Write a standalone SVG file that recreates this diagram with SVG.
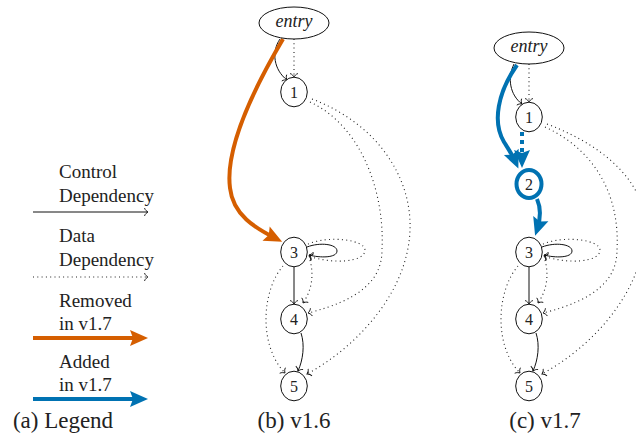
<svg xmlns="http://www.w3.org/2000/svg" width="636" height="433" viewBox="0 0 636 433">
<style>
  text { font-family: 'Liberation Serif', 'DejaVu Serif', serif; fill: #222; }
  .lg { font-size: 19px; }
  .cap { font-size: 23px; text-anchor: middle; }
  .lab { font-size: 16px; text-anchor: middle; }
  .ent { font-size: 18px; font-style: italic; text-anchor: middle; }
  .node { fill: #fff; stroke: #111; stroke-width: 1; }
  .ctl { fill: none; stroke: #111; stroke-width: 1; marker-end: url(#chev); }
  .dat { fill: none; stroke: #222; stroke-width: 1.1; stroke-dasharray: 1 3.3; marker-end: url(#chev); }
  .rem { fill: none; stroke: #D55E00; stroke-width: 4; marker-end: url(#headO); }
  .add { fill: none; stroke: #0072B2; stroke-width: 4; marker-end: url(#headB); }
  .addd { fill: none; stroke: #0072B2; stroke-width: 4; stroke-dasharray: 4 4; marker-end: url(#headB); }
</style>
<defs>
  <marker id="chev" markerUnits="userSpaceOnUse" orient="auto" refX="0" refY="0" markerWidth="10" markerHeight="10" overflow="visible">
    <path d="M-3.5,-4 C-3,-2 -1,-0.5 0,0 C-1,0.5 -3,2 -3.5,4" fill="none" stroke="#111" stroke-width="0.9"/>
  </marker>
  <marker id="headO" markerUnits="userSpaceOnUse" orient="auto" refX="0" refY="0" markerWidth="20" markerHeight="20" overflow="visible">
    <path d="M6,0 L-12,-8 L-9,0 L-12,8 Z" fill="#D55E00"/>
  </marker>
  <marker id="headB" markerUnits="userSpaceOnUse" orient="auto" refX="0" refY="0" markerWidth="20" markerHeight="20" overflow="visible">
    <path d="M6,0 L-12,-8 L-9,0 L-12,8 Z" fill="#0072B2"/>
  </marker>
</defs>

<!-- (a) Legend -->
<g id="legend" font-family="Liberation Serif, DejaVu Serif, serif">
  <text class="lg" x="59" y="178">Control</text>
  <text class="lg" x="59" y="202">Dependency</text>
  <path class="ctl" d="M33,212 L148,212"/>
  <text class="lg" x="59" y="242">Data</text>
  <text class="lg" x="59" y="266">Dependency</text>
  <path class="dat" d="M33,277 L148,277"/>
  <text class="lg" x="59" y="307">Removed</text>
  <text class="lg" x="59" y="330">in v1.7</text>
  <path class="rem" d="M33,338 L142,338"/>
  <text class="lg" x="59" y="368">Added</text>
  <text class="lg" x="59" y="391">in v1.7</text>
  <path class="add" d="M33,399 L142,399"/>
  <text class="cap" x="63" y="428">(a) Legend</text>
</g>

<!-- connectors -->
<g id="connectors">
  <!-- panel b -->
  <path class="ctl" d="M280,39 C271,52 274,70 287,80"/>
  <path class="dat" d="M294,39 L294,77"/>
  <path class="rem" d="M283,39 C250,95 225,150 230,188 C233,215 255,228 276.8,239"/>
  <path class="dat" d="M310,102 C360,125 385,190 382,250 C382,280 360,300 308,313"/>
  <path class="dat" d="M312,99 C380,125 412,180 410,230 C408,290 360,345 307,374"/>
  <path class="ctl" d="M307,247 C320,242 337,244 337,251 C337,258 320,258 309,255"/>
  <path class="dat" d="M308,244 C330,235 365,240 365,250 C365,263 330,264 309,256"/>
  <path class="ctl" d="M294,267 L294,304"/>
  <path class="dat" d="M310,260 C314,275 312,290 303,303"/>
  <path class="dat" d="M283,266 C262,290 258,345 285,373"/>
  <path class="ctl" d="M301,333 C305,345 303,360 298,371"/>

  <!-- panel c -->
  <path class="ctl" d="M514,64 C507,78 510,95 522,104"/>
  <path class="dat" d="M529,64 L529,102"/>
  <path class="add" d="M517,65 C498,92 492,122 504,142 C509,150 513,156 516,163"/>
  <path class="addd" d="M522,132 L522,162"/>
  <path class="add" d="M537,199 C541,208 541,218 537,230"/>
  <path class="dat" d="M545,127 C595,150 620,195 617,250 C617,280 595,300 543,313"/>
  <path class="dat" d="M547,124 C615,150 647,190 645,230 C643,290 595,345 542,374"/>
  <path class="ctl" d="M542,247 C555,242 572,244 572,251 C572,258 555,258 544,255"/>
  <path class="dat" d="M543,244 C565,235 600,240 600,250 C600,263 565,264 544,256"/>
  <path class="ctl" d="M529,267 L529,304"/>
  <path class="dat" d="M545,260 C549,275 547,290 538,303"/>
  <path class="dat" d="M518,266 C497,290 493,345 520,373"/>
  <path class="ctl" d="M536,333 C540,345 538,360 533,371"/>
</g>

<!-- panel b nodes -->
<g id="b-entry"><ellipse class="node" cx="294" cy="23" rx="35" ry="16"/><text class="ent" x="294" y="27">entry</text></g>
<g id="b-n1"><ellipse class="node" cx="294" cy="92" rx="13.3" ry="14.8"/><text class="lab" x="294" y="97.5">1</text></g>
<g id="b-n3"><ellipse class="node" cx="294" cy="252" rx="13.3" ry="14.8"/><text class="lab" x="294" y="257.5">3</text></g>
<g id="b-n4"><ellipse class="node" cx="294" cy="319" rx="13.3" ry="14.8"/><text class="lab" x="294" y="324.5">4</text></g>
<g id="b-n5"><ellipse class="node" cx="294" cy="386" rx="13.3" ry="14.8"/><text class="lab" x="294" y="391.5">5</text></g>
<text class="cap" x="294" y="428">(b) v1.6</text>

<!-- panel c nodes -->
<g id="c-entry"><ellipse class="node" cx="529" cy="48" rx="35" ry="16"/><text class="ent" x="529" y="52">entry</text></g>
<g id="c-n1"><ellipse class="node" cx="529" cy="117" rx="13.3" ry="14.8"/><text class="lab" x="529" y="122.5">1</text></g>
<g id="c-n2"><ellipse cx="529" cy="184" rx="12.5" ry="14" fill="#fff" stroke="#0072B2" stroke-width="4"/><text class="lab" x="529" y="189.5">2</text></g>
<g id="c-n3"><ellipse class="node" cx="529" cy="252" rx="13.3" ry="14.8"/><text class="lab" x="529" y="257.5">3</text></g>
<g id="c-n4"><ellipse class="node" cx="529" cy="319" rx="13.3" ry="14.8"/><text class="lab" x="529" y="324.5">4</text></g>
<g id="c-n5"><ellipse class="node" cx="529" cy="386" rx="13.3" ry="14.8"/><text class="lab" x="529" y="391.5">5</text></g>
<text class="cap" x="545" y="428">(c) v1.7</text>
</svg>
